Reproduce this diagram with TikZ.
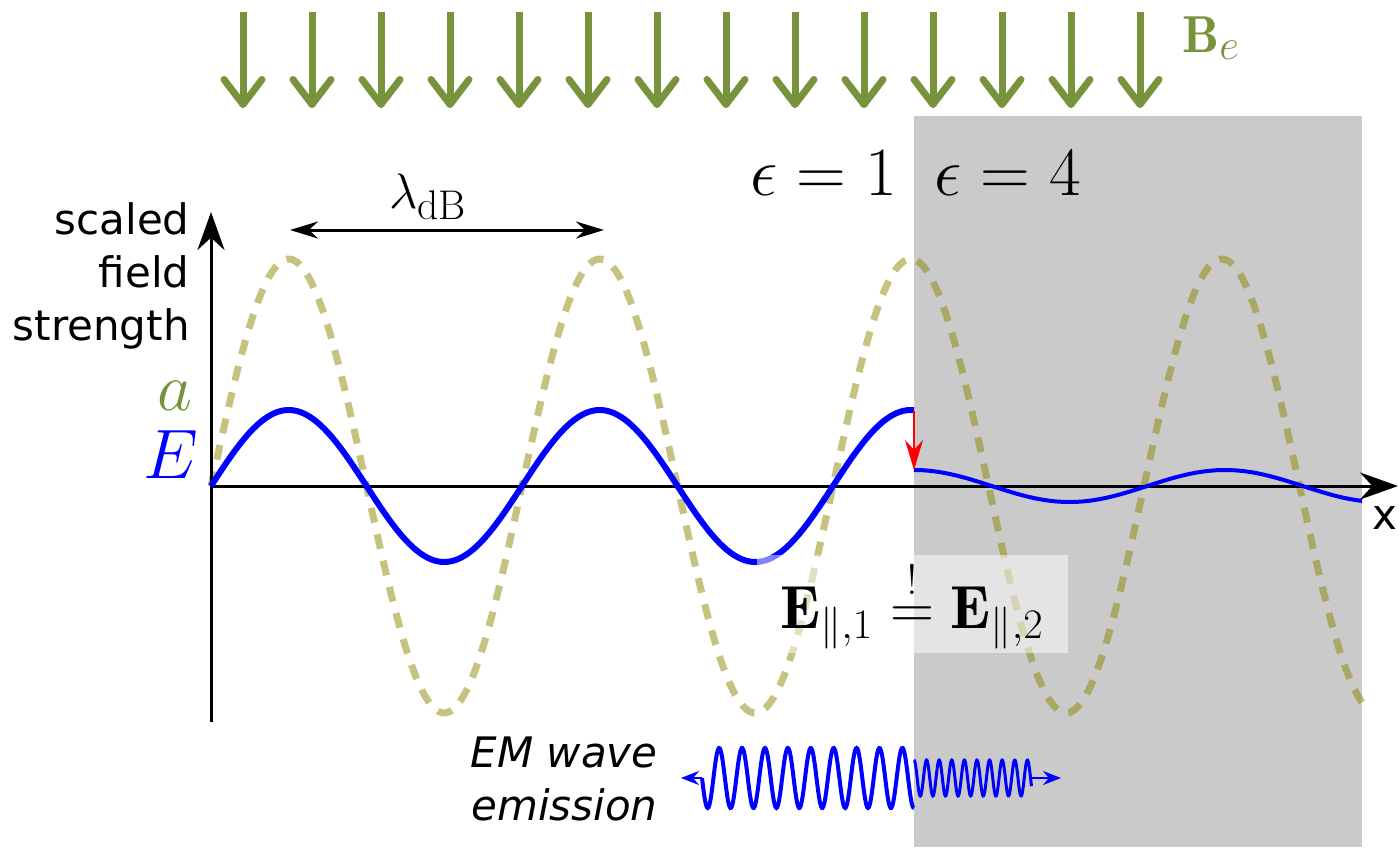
\RequirePackage{fix-cm}
\documentclass[tikz,border=0pt]{standalone}
\usepackage{amsmath,amssymb}
\usepackage{fontspec}
\setsansfont{DejaVu Sans}
\usepackage{tikz}
\usetikzlibrary{arrows.meta,positioning}
\usepackage{xcolor}

\definecolor{fieldgreen}{RGB}{119,147,60}
\definecolor{mediumgray}{RGB}{202,202,202}

\begin{document}
\begin{tikzpicture}[
  x=0.5pt, y=-0.5pt,
  >=Stealth,
  axis/.style={line width=1.5pt, -{Stealth[length=19pt,width=13.5pt]}},
  bfield/.style={fieldgreen, line width=3.5pt, -{Straight Barb[length=12.5pt,width=19pt,round]}},
  axionwave/.style={olive, opacity=0.5, line width=3.5pt, dash pattern=on 7.5pt off 6pt},
  efield/.style={blue, line width=3pt},
  emwave/.style={blue, line width=1pt},
  sidelabel/.style={font=\sffamily\fontsize{21}{26.3}\selectfont, align=right, inner sep=0pt},
  mathlabel/.style={font=\fontsize{30}{36}\selectfont, inner sep=0pt}
]
\useasboundingbox (0,0) rectangle (1399,847);

% dielectric with epsilon=4
\fill[mediumgray] (914,116) rectangle (1362,847);

% external magnetic field
\foreach \k in {0,...,13}
  \draw[bfield] (243+69*\k,12) -- (243+69*\k,108);
\node[mathlabel, fieldgreen, anchor=base west, font=\fontsize{26}{31}\selectfont] (Be) at (1182,52)
  {$\mathbf{B}_{\hbox{\fontsize{21.5}{25}\selectfont$e$}}$};

% axion field a  (period 311, 360/311 = 1.15756)
\draw[axionwave] plot[domain=211:1362, samples=300] (\x, {486-227*sin(1.15756*(\x-211))});

% axes
\coordinate (O) at (211,486);
\coordinate (ybot) at (211,722);
\coordinate (ytop) at (211,212);
\coordinate (xend) at (1398,486);
\draw[axis] (ybot) -- (ytop);
\draw[axis] (O) -- (xend);
\node[sidelabel, anchor=base east] (ylab) at (190,340) {scaled\\field\\strength};
\node[sidelabel] (xlab) at (1385,518) {x};
\node[mathlabel, fieldgreen, font=\fontsize{34}{41}\selectfont] (alab) at (175,396) {$a$};
\node[mathlabel, blue, font=\fontsize{35}{42}\selectfont] (Elab) at (171,455) {$E$};

% electric field E
\draw[efield] plot[domain=211:914, samples=200] (\x, {486-76*sin(1.15756*(\x-211))});
\draw[efield, line width=2pt] plot[domain=914:1362, samples=150] (\x, {486-16*cos(1.15756*(\x-914))});

% jump at the boundary
\coordinate (Ein) at (914,411);
\coordinate (Eout) at (914,470);
\draw[red, line width=1pt, -{Stealth[length=15pt,width=9pt]}] (Ein) -- (Eout);

% de Broglie wavelength
\coordinate (lamL) at (290,230);
\coordinate (lamR) at (604,230);
\draw[line width=1.5pt, {Stealth[length=14pt,width=8.5pt]}-{Stealth[length=14pt,width=8.5pt]}] (lamL) -- (lamR);
\node[mathlabel, anchor=base, font=\fontsize{24.88}{30}\selectfont] (lam) at (428,208)
  {$\lambda_{\hbox{\fontsize{20.74}{24}\selectfont dB}}$};

% permittivities
\node[mathlabel, anchor=base, font=\fontsize{34.5}{41}\selectfont] (eps1) at (824,195) {$\epsilon=1$};
\node[mathlabel, anchor=base, font=\fontsize{34.5}{41}\selectfont] (eps2) at (1008,195) {$\epsilon=4$};

% boundary condition
\node[fill=white, fill opacity=0.5, text opacity=1, minimum width=155.5pt, minimum height=49pt,
  inner sep=0pt, font=\fontsize{30.5}{37}\selectfont] (bc) at (912,604)
  {$\mathbf{E}_{\hbox{\fontsize{21}{24}\selectfont${\parallel}{,}1$}}
   \overset{!}{=}
   \mathbf{E}_{\hbox{\fontsize{21}{24}\selectfont${\parallel}{,}2$}}$};

% emitted EM waves
\draw[emwave, line width=2pt] plot[domain=702:914, samples=300] (\x, {778+30*sin(15.7205*(\x-702))});
\draw[emwave, line width=1.5pt] plot[domain=914:1031.5, samples=300] (\x, {778-18*cos(28.5714*(\x-914))});
\coordinate (emL) at (702,778);
\coordinate (emLtip) at (681,778);
\coordinate (emR) at (1031.5,778);
\coordinate (emRtip) at (1061,778);
\draw[emwave, -{Stealth[length=9pt,width=7pt]}] (emL) -- (emLtip);
\draw[emwave, -{Stealth[length=9pt,width=7pt]}] (emR) -- (emRtip);
\node[sidelabel, anchor=base east, font=\sffamily\itshape\fontsize{21}{26.5}\selectfont] (emlab) at (658,820) {EM wave\\emission};
\end{tikzpicture}
\end{document}
